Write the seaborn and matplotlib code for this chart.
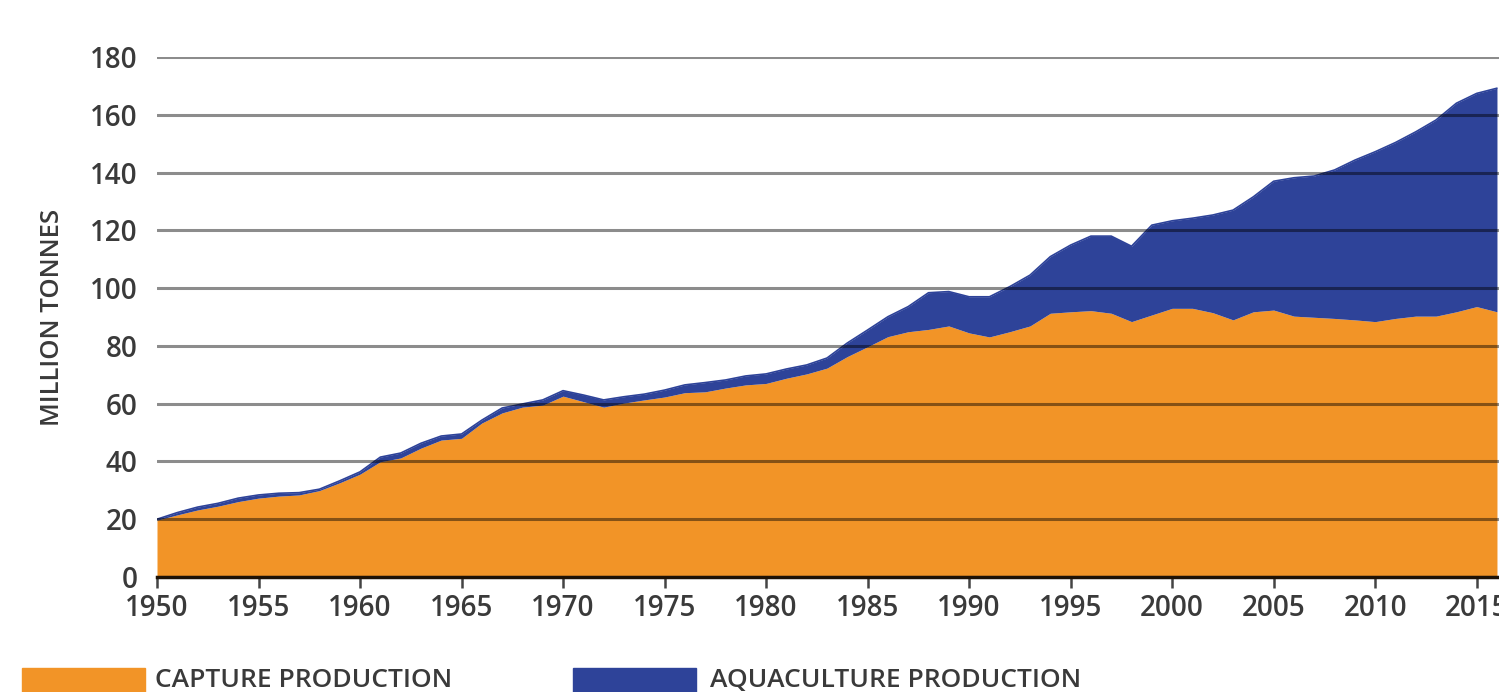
"""Capture vs aquaculture production, stacked area, 1950-2016."""

import matplotlib.pyplot as plt
import matplotlib.patches as mpatches
import pandas as pd
import seaborn as sns

years = list(range(1950, 2017))

# million tonnes
capture = [
    19.7, 21.5, 23.2, 24.5, 26.1, 27.3, 28.0, 28.4, 29.9, 32.6,
    35.6, 39.9, 41.2, 44.6, 47.4, 48.0, 53.3, 56.8, 58.8, 59.5,
    62.6, 60.7, 58.8, 60.2, 61.3, 62.3, 63.8, 64.1, 65.4, 66.5,
    67.0, 68.8, 70.3, 72.3, 76.3, 79.7, 83.2, 84.9, 85.7, 86.9,
    84.5, 83.1, 84.9, 86.9, 91.3, 91.8, 92.2, 91.3, 88.4, 90.7,
    93.0, 93.0, 91.5, 89.0, 91.8, 92.4, 90.3, 89.9, 89.5, 89.0,
    88.4, 89.5, 90.3, 90.3, 91.8, 93.6, 91.8,
]
aquaculture = [
    0.3, 0.8, 1.0, 1.0, 1.2, 1.1, 1.0, 0.8, 0.5, 0.7,
    0.8, 1.6, 1.7, 1.7, 1.4, 1.5, 1.0, 1.7, 1.1, 1.8,
    1.9, 2.3, 2.5, 2.2, 2.0, 2.4, 2.7, 3.2, 2.8, 3.1,
    3.3, 3.2, 3.1, 3.5, 4.7, 5.8, 6.9, 8.7, 12.7, 11.9,
    12.5, 13.9, 15.6, 17.6, 19.6, 23.1, 25.8, 26.7, 26.1, 31.1,
    30.3, 31.2, 33.8, 38.0, 39.8, 44.6, 47.9, 48.9, 51.4, 55.3,
    58.8, 60.9, 63.8, 67.9, 72.2, 73.8, 77.4,
]

series_labels = ['CAPTURE PRODUCTION', 'AQUACULTURE PRODUCTION']
y_ticks = list(range(0, 181, 20))
x_ticks = list(range(1950, 2016, 5))

ORANGE = '#F29427'
BLUE = '#2E4399'
TEXT = '#3a3a3a'

df = pd.DataFrame({'year': years, 'capture': capture, 'aquaculture': aquaculture})
df['total'] = df['capture'] + df['aquaculture']

sns.set_theme(style='white')
plt.rcParams['font.family'] = ['Open Sans', 'DejaVu Sans']

W, H = 1499, 692
fig = plt.figure(figsize=(W / 100, H / 100), dpi=100)
ax = fig.add_axes([157 / W, (H - 577) / H, (W - 157) / W, (577 - 57) / H])

ax.fill_between(df['year'], 0, df['capture'], color=ORANGE, linewidth=0, zorder=1)
ax.fill_between(df['year'], df['capture'], df['total'], color=BLUE, linewidth=0, zorder=1)
sns.lineplot(data=df, x='year', y='total', color=BLUE, linewidth=1.2, ax=ax, zorder=1)

ax.set_xlim(1950, 2016.1)
ax.set_ylim(0, 180)
ax.set_xticks(x_ticks)
ax.set_yticks(y_ticks)
ax.set_xlabel('')
ax.set_ylabel('MILLION TONNES', fontsize=18.5, color=TEXT, labelpad=18,
              fontweight='semibold')

ax.set_axisbelow(False)
ax.grid(axis='y', color='black', alpha=0.45, linewidth=2.2)
ax.grid(axis='x', visible=False)
for side in ['left', 'right', 'top']:
    ax.spines[side].set_visible(False)
ax.spines['bottom'].set_color('#1e1206')
ax.spines['bottom'].set_linewidth(2.5)
ax.spines['bottom'].set_zorder(3)

ax.tick_params(axis='x', bottom=True, direction='out', length=8, width=1.8,
               color='#444444', pad=4, labelsize=20, labelcolor=TEXT)
ax.tick_params(axis='y', left=False, pad=8, labelsize=20, labelcolor=TEXT)
for lab in ax.get_xticklabels() + ax.get_yticklabels():
    lab.set_fontweight('semibold')

# legend along the bottom edge, cut off by the frame like the source
for x0, color, label, tx in [(22, ORANGE, series_labels[0], 155),
                             (573, BLUE, series_labels[1], 710)]:
    fig.patches.append(mpatches.Rectangle((x0 / W, -4 / H), 123 / W, 28 / H,
                                          transform=fig.transFigure,
                                          color=color, zorder=5))
    fig.text(tx / W, 5 / H, label, fontsize=19, color=TEXT,
             fontweight='semibold', va='baseline', ha='left')

fig.savefig('out.png', dpi=100)
